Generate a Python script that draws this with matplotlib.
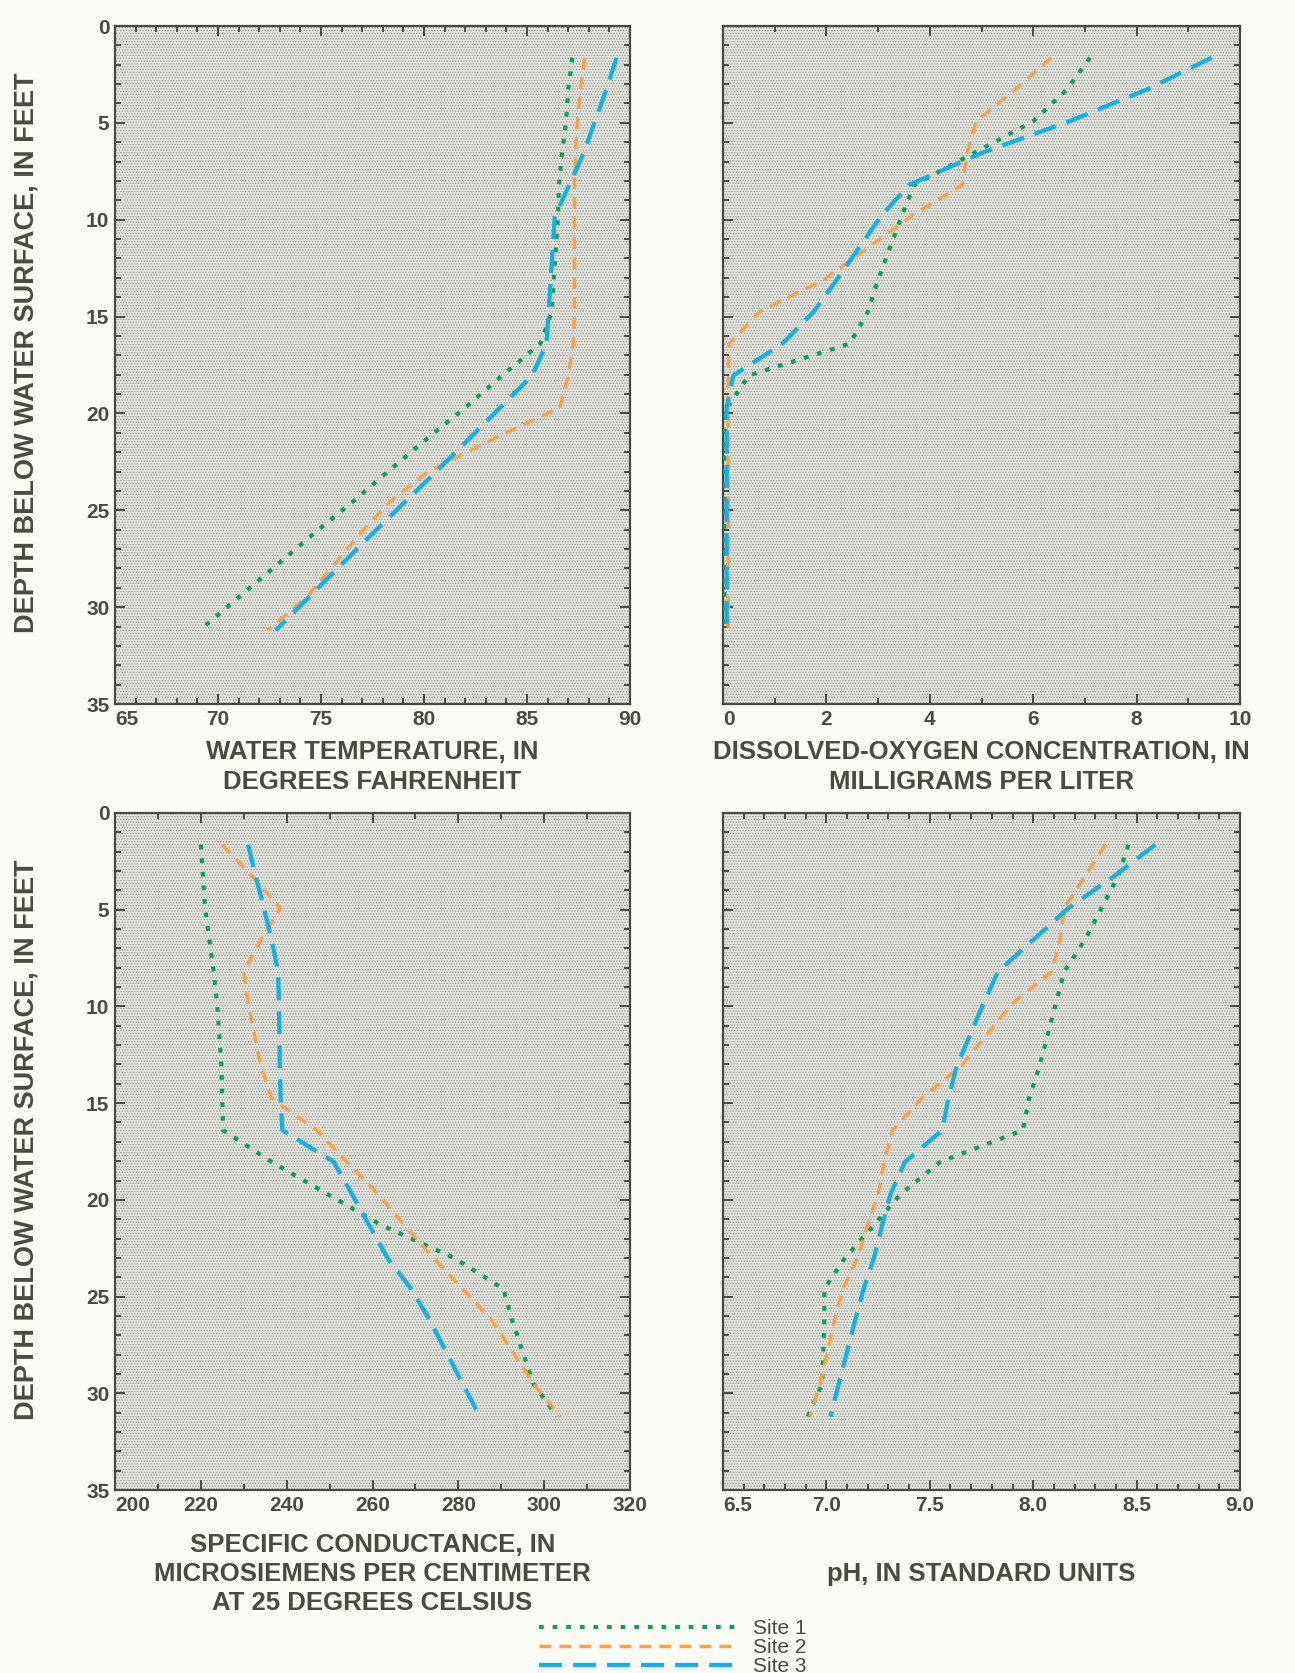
import numpy as np
import matplotlib
matplotlib.use("Agg")
import matplotlib.pyplot as plt
from matplotlib.patches import Rectangle
from matplotlib.ticker import MultipleLocator

# depths of the profile measurements, in feet
depth = [1.64, 3.28, 4.92, 6.56, 8.2, 9.84, 13.1, 14.76, 16.4, 18.04,
         19.7, 21.3, 23.0, 24.6, 26.2, 29.5, 31.2]

temp_1 = [87.2, 87.0, 86.9, 86.7, 86.55, 86.5, 86.3, 86.2, 85.65, 83.8,
          82.0, 80.15, 78.25, 76.5, 74.65, 71.0, 69.1]
temp_2 = [87.8, 87.6, 87.45, 87.35, 87.3, 87.3, 87.3, 87.3, 87.25, 87.0,
          86.6, 83.4, 80.2, 78.3, 76.9, 74.3, 72.4]
temp_3 = [89.35, 88.85, 88.3, 87.75, 87.05, 86.35, 86.15, 86.05, 85.95, 85.25,
          83.7, 82.2, 80.6, 79.05, 77.5, 74.4, 72.8]

do_1 = [7.1, 6.65, 6.0, 4.85, 3.7, 3.45, 3.0, 2.8, 2.45, 0.5,
        0.08, 0.03, 0.03, 0.03, 0.03, 0.03, 0.03]
do_2 = [6.35, 5.65, 4.9, 4.72, 4.63, 3.63, 1.95, 0.7, 0.12, 0.1,
        0.1, 0.1, 0.1, 0.1, 0.1, 0.1, 0.1]
do_3 = [9.45, 8.2, 6.7, 5.0, 3.6, 3.05, 2.2, 1.75, 1.15, 0.2,
        0.07, 0.07, 0.07, 0.07, 0.07, 0.07, 0.07]

cond_1 = [220, 220.5, 221, 222, 223, 223.8, 224.8, 225, 225.2, 236.5,
          249.5, 262, 279, 290.5, 292.5, 297.5, 303]
cond_2 = [225, 232, 238.5, 234, 230, 231, 234, 236.5, 247, 254,
          261.3, 267.4, 274.2, 281, 287.7, 297.5, 303.8]
cond_3 = [231, 232.8, 234.7, 236.5, 238, 238.2, 238.4, 238.6, 239, 251,
          255.2, 259.2, 263.5, 269, 273.3, 281, 285]

ph_1 = [8.46, 8.41, 8.33, 8.25, 8.15, 8.11, 8.03, 7.98, 7.95, 7.55,
        7.36, 7.23, 7.09, 6.99, 6.99, 6.98, 6.91]
ph_2 = [8.35, 8.25, 8.15, 8.13, 8.09, 7.9, 7.65, 7.46, 7.32, 7.28,
        7.25, 7.2, 7.15, 7.08, 7.04, 6.97, 6.92]
ph_3 = [8.59, 8.39, 8.17, 8.0, 7.83, 7.76, 7.63, 7.59, 7.56, 7.38,
        7.31, 7.27, 7.23, 7.18, 7.14, 7.06, 7.02]

site_names = ["Site 1", "Site 2", "Site 3"]

xlabels = ["WATER TEMPERATURE, IN\nDEGREES FAHRENHEIT",
           "DISSOLVED-OXYGEN CONCENTRATION, IN\nMILLIGRAMS PER LITER",
           "SPECIFIC CONDUCTANCE, IN\nMICROSIEMENS PER CENTIMETER\nAT 25 DEGREES CELSIUS",
           "pH, IN STANDARD UNITS"]
ylabel = "DEPTH BELOW WATER SURFACE, IN FEET"

# limits, major, minor step, tick format
xaxes = [(65, 90, 5, 1, "{:.0f}"),
         (0, 10, 2, 1, "{:.0f}"),
         (200, 320, 20, 10, "{:.0f}"),
         (6.5, 9.0, 0.5, 0.1, "{:.1f}")]

ink = "#4a4a43"
paper = "#fbfbf6"
colors = ["#10a055", "#f7a24c", "#14b0e6"]

plt.rcParams["lines.scale_dashes"] = False
plt.rcParams["hatch.linewidth"] = 0.6
plt.rcParams["font.family"] = "Liberation Sans"

W, H = 1295, 1673
fig = plt.figure(figsize=(W / 100, H / 100), dpi=100, facecolor=paper)

boxes = [(115, 26, 630, 704), (723, 26, 1240, 704),
         (115, 813, 630, 1490), (723, 813, 1240, 1490)]

series = [(temp_1, temp_2, temp_3), (do_1, do_2, do_3),
          (cond_1, cond_2, cond_3), (ph_1, ph_2, ph_3)]

styles = [dict(lw=3.0, dashes=(3.4, 6.4), dash_capstyle="butt"),
          dict(lw=2.5, dashes=(8.4, 6.0), dash_capstyle="butt"),
          dict(lw=3.1, dashes=(16.5, 8.0), dash_capstyle="butt")]

handles = []
for i, (x0, y0, x1, y1) in enumerate(boxes):
    ax = fig.add_axes([x0 / W, 1 - y1 / H, (x1 - x0) / W, (y1 - y0) / H])
    ax.set_facecolor("#e4e4de")
    ax.add_patch(Rectangle((0, 0), 1, 1, transform=ax.transAxes, facecolor="none",
                           edgecolor="#9a9a94", hatch="......", lw=0, zorder=0))
    lo, hi, major, minor, fmt = xaxes[i]
    for s, vals in enumerate(series[i]):
        ln, = ax.plot(vals, depth, color=colors[s], label=site_names[s], zorder=3, **styles[s])
        if i == 0:
            handles.append(ln)
    ax.set_xlim(lo, hi)
    ax.set_ylim(35, 0)
    ax.xaxis.set_minor_locator(MultipleLocator(minor))
    ax.yaxis.set_major_locator(MultipleLocator(5))
    ax.yaxis.set_minor_locator(MultipleLocator(1))
    ticks = np.arange(lo, hi + major / 2, major)
    ax.set_xticks(ticks)
    ax.set_xticklabels([fmt.format(v) for v in ticks])
    ax.tick_params(which="both", direction="in", top=True, right=True, color=ink,
                   width=1.4, labelcolor=ink, labelsize=15)
    ax.tick_params(which="major", length=7, pad=4)
    ax.tick_params(which="minor", length=4.5)
    for lab in ax.get_xticklabels() + ax.get_yticklabels():
        lab.set_fontweight("bold")
    # first label sits just right of the corner, as in the original
    ax.get_xticklabels()[0].set_horizontalalignment("left")
    for sp in ax.spines.values():
        sp.set_color(ink)
        sp.set_linewidth(1.6)
    if i % 2 == 1:
        ax.set_yticklabels([])
    else:
        ax.set_ylabel(ylabel, fontsize=19.5, fontweight="bold", color=ink)
        ax.yaxis.set_label_coords((40 - x0) / (x1 - x0), 0.518)

    cx = (x0 + x1) / 2 / W
    cy = 1 - (767 if i < 2 else 1574) / H
    fig.text(cx, cy, xlabels[i], ha="center", va="center", fontsize=18.5,
             fontweight="bold", color=ink, linespacing=1.28)

fig.legend(handles=handles, loc="upper left", bbox_to_anchor=(539 / W, 1 - 1619 / H),
           frameon=False, borderpad=0, borderaxespad=0, handlelength=9.4,
           handletextpad=0.85, labelspacing=0.0, fontsize=15,
           labelcolor=ink)

fig.savefig("out.png", dpi=100, facecolor=paper)
